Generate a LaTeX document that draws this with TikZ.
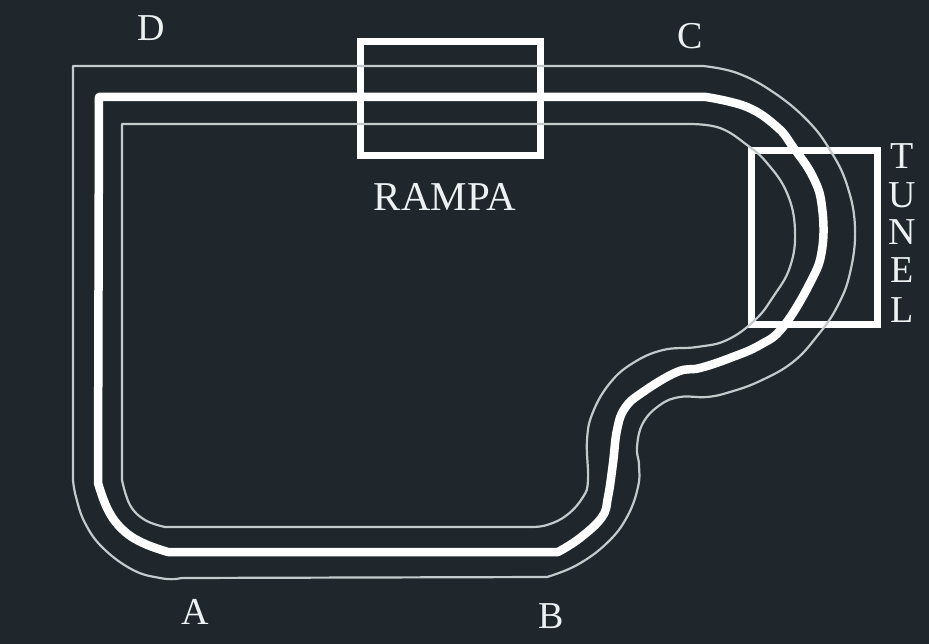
\documentclass[tikz,border=0pt]{standalone}
\usepackage{fontspec}
\setmainfont{Liberation Serif}
\definecolor{bgc}{HTML}{1F272C}
\definecolor{thinc}{HTML}{C4CACB}
\definecolor{txtc}{HTML}{EEF1F1}
\tikzset{
  thinline/.style={draw=thinc,line width=2.2pt,line join=round,line cap=round},
  thickline/.style={draw=white,line width=8.5pt,line join=round,line cap=round},
  boxline/.style={draw=white,line width=7pt,line join=miter,fill=none},
  lbl/.style={text=txtc,font=\fontsize{38}{38}\selectfont,inner sep=0pt},
  rlbl/.style={text=txtc,font=\fontsize{41}{41}\selectfont,inner sep=0pt}
}
\begin{document}
\begin{tikzpicture}[x=1pt,y=-1pt]
\path[use as bounding box,fill=bgc] (0,0) rectangle (929,644);
% boxes
\draw[boxline] (360,42) rectangle (540,156);
\draw[boxline] (751,151) rectangle (877,325);
% outer
\draw[thinline] (73,480) -- (73,66) -- (703,66)
  plot[smooth,tension=0.7] coordinates {(703,66) (737,73) (773,92) (807,120) (830,150) (847,185) (855,228) (850,273) (837,307) (818,335) (793,362) (760,381) (730,392) (707,397) (680,397) (660,405) (643,423) (637,447) (639,465) (638,487) (627,517) (607,543) (577,565) (547,577)}
  -- (182,578) -- (176,579)
  plot[smooth,tension=0.7] coordinates {(176,579) (160,578) (133,570) (103,548) (85,523) (76,497) (73,480)};
% inner
\draw[thinline] (122,480) -- (122,124) -- (690,124)
  plot[smooth,tension=0.7] coordinates {(690,124) (720,128) (747,145) (767,163) (787,193) (795,230) (790,267) (773,297) (755,320) (727,340) (697,347) (663,350) (633,363) (610,383) (593,412) (587,440) (588,480) (583,497) (567,515) (547,525) (530,527)}
  -- (165,527)
  plot[smooth,tension=0.7] coordinates {(165,527) (145,520) (130,505) (122,480)};
% centre
\draw[thickline] (98,483) -- (99,97) -- (706,97)
  plot[smooth,tension=0.7] coordinates {(706,97) (747,107) (777,127) (793,147) (813,177) (822,207) (822,250) (810,283) (783,327) (760,345) (730,358) (700,368) (677,372) (643,392) (625,408) (617,430) (613,463) (608,497) (602,517) (580,538) (558,552)}
  -- (168,552)
  plot[smooth,tension=0.7] coordinates {(168,552) (143,543) (123,530) (108,510) (98,483)};
% labels
\node[lbl] (d) at (151,28) {D};
\node[lbl] (c) at (690,36) {C};
\node[lbl] (a) at (195,612) {A};
\node[lbl] (b) at (551,616) {B};
\node[rlbl] (rampa) at (445,197) {RAMPA};
\node[lbl] (t1) at (902,156) {T};
\node[lbl] (t2) at (902,195) {U};
\node[lbl] (t3) at (902,232) {N};
\node[lbl] (t4) at (902,270) {E};
\node[lbl] (t5) at (902,310) {L};
\end{tikzpicture}
\end{document}
